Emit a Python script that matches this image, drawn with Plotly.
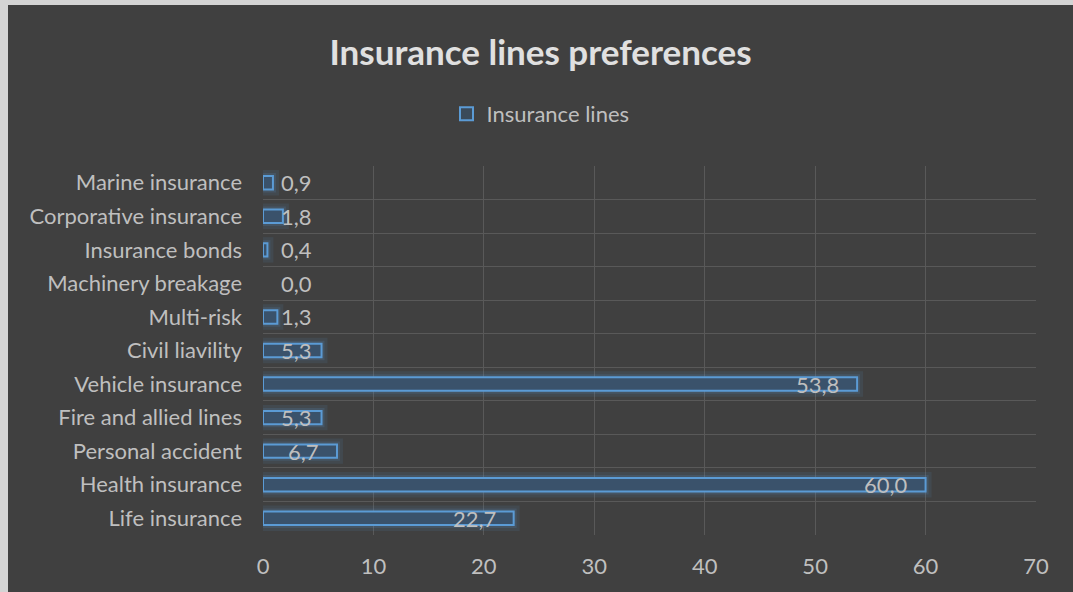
import plotly.graph_objects as go

categories = ["Life insurance", "Health insurance", "Personal accident", "Fire and allied lines",
              "Vehicle insurance", "Civil liavility", "Multi-risk", "Machinery breakage",
              "Insurance bonds", "Corporative insurance", "Marine insurance"]
values = [22.7, 60.0, 6.7, 5.3, 53.8, 5.3, 1.3, 0.0, 0.4, 1.8, 0.9]
series_name = "Insurance lines"
title_text = "Insurance lines preferences"
x_ticks = [0, 10, 20, 30, 40, 50, 60, 70]

W, H = 1073, 592
L, R, T, B = 263, 37, 166, 57
pw, ph = W - L - R, H - T - B

def px_x(p):
    return (p - L) / pw

def px_y(p):
    return (H - B - p) / ph

FONT = "Lato"
BG = "#404040"
TXT = "#bfbfbf"
BLUE = "#5b9bd5"
FS = 22

fig = go.Figure()

# soft glow behind the bars
fig.add_trace(go.Bar(
    y=categories, x=values, orientation="h", width=0.4,
    marker=dict(color="rgba(91,155,213,0.10)",
                line=dict(color="rgba(91,155,213,0.10)", width=[0 if v == 0 else 12 for v in values])),
    showlegend=False, hoverinfo="skip"))
fig.add_trace(go.Bar(
    y=categories, x=values, orientation="h", width=0.4,
    marker=dict(color="rgba(91,155,213,0.15)",
                line=dict(color="rgba(91,155,213,0.15)", width=[0 if v == 0 else 6 for v in values])),
    showlegend=False, hoverinfo="skip"))
fig.add_trace(go.Bar(
    y=categories, x=values, orientation="h", width=0.4, name=series_name, showlegend=False,
    marker=dict(color="#3a526b", line=dict(color=BLUE, width=[0 if v == 0 else 2 for v in values]))))
# legend entry (outlined square like the reference)
fig.add_trace(go.Scatter(
    x=[None], y=[None], mode="markers", name=series_name,
    marker=dict(symbol="square", size=13, color="#3a4a5a", line=dict(color=BLUE, width=2))))

annotations = []
for c, v in zip(categories, values):
    lab = f"{v:.1f}".replace(".", ",")
    if v >= 6:
        annotations.append(dict(x=v, y=c, xref="x", yref="y", text=lab, showarrow=False,
                                xanchor="right", xshift=-16, font=dict(family=FONT, size=FS, color=TXT)))
    else:
        annotations.append(dict(x=0, y=c, xref="x", yref="y", text=lab, showarrow=False,
                                xanchor="left", xshift=16, font=dict(family=FONT, size=FS, color=TXT)))

shapes = [
    dict(type="rect", xref="paper", yref="paper", x0=px_x(0), x1=px_x(8), y0=px_y(H), y1=px_y(0),
         fillcolor="#d4d4d4", line=dict(width=0), layer="below"),
    dict(type="rect", xref="paper", yref="paper", x0=px_x(0), x1=px_x(W), y0=px_y(5), y1=px_y(0),
         fillcolor="#d4d4d4", line=dict(width=0), layer="below"),
]

fig.update_layout(
    width=W, height=H,
    margin=dict(l=L, r=R, t=T, b=B),
    paper_bgcolor=BG, plot_bgcolor=BG,
    barmode="overlay",
    title=dict(text=f"<b>{title_text}</b>", xref="container", yref="container",
               x=540.5 / W, y=1 - 53 / H, xanchor="center", yanchor="middle",
               font=dict(family=FONT, size=35, color="#e0e0e0")),
    legend=dict(orientation="h", xref="container", yref="container",
                x=540.5 / W, y=1 - 114 / H, xanchor="center", yanchor="middle",
                font=dict(family=FONT, size=FS, color=TXT), bgcolor="rgba(0,0,0,0)",
                itemwidth=30),
    xaxis=dict(range=[0, 70], tickvals=x_ticks, showgrid=True, gridcolor="#595959", gridwidth=1,
               zeroline=False, showline=False, tickfont=dict(family=FONT, size=FS, color=TXT),
               ticks="", ticklabelstandoff=16, fixedrange=True),
    yaxis=dict(type="category", categoryorder="array", categoryarray=categories,
               tickson="boundaries", showgrid=True, gridcolor="#595959", gridwidth=1,
               showline=False, zeroline=False, ticks="",
               tickfont=dict(family=FONT, size=FS, color=TXT), ticklabelstandoff=20, fixedrange=True),
    annotations=annotations,
    shapes=shapes,
)

fig.write_html("out.html")
